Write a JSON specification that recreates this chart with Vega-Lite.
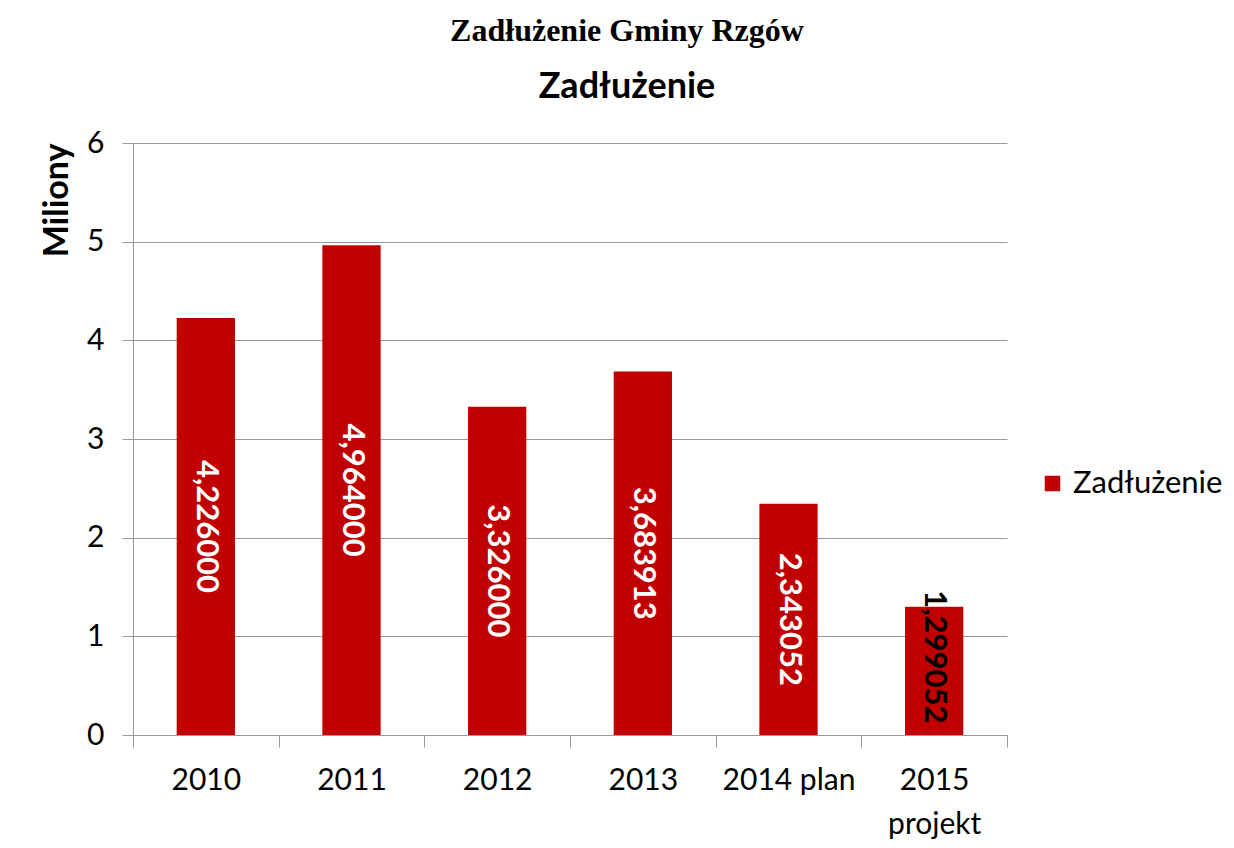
{
  "$schema": "https://vega.github.io/schema/vega-lite/v6.json",
  "autosize": {"type": "none"},
  "width": 874,
  "height": 592,
  "padding": {"left": 133, "top": 143, "right": 227, "bottom": 113},
  "background": "white",
  "title": {
    "text": "Zadłużenie Gminy Rzgów",
    "subtitle": "Zadłużenie",
    "font": "Liberation Serif",
    "fontSize": 32,
    "fontWeight": "bold",
    "color": "black",
    "subtitleFont": "Lato",
    "subtitleFontSize": 36,
    "subtitleFontWeight": "bold",
    "subtitleColor": "black",
    "subtitlePadding": 22,
    "anchor": "middle",
    "dx": 57,
    "offset": 22
  },
  "data": {
    "values": [
      {"rok": "2010", "value": 4.226, "label": "4,226000", "series": "Zadłużenie"},
      {"rok": "2011", "value": 4.964, "label": "4,964000", "series": "Zadłużenie"},
      {"rok": "2012", "value": 3.326, "label": "3,326000", "series": "Zadłużenie"},
      {"rok": "2013", "value": 3.683913, "label": "3,683913", "series": "Zadłużenie"},
      {"rok": "2014 plan", "value": 2.343052, "label": "2,343052", "series": "Zadłużenie"},
      {"rok": "2015 projekt", "value": 1.299052, "label": "1,299052", "series": "Zadłużenie"}
    ]
  },
  "layer": [
    {
      "mark": {"type": "bar", "width": {"band": 0.4}},
      "encoding": {
        "x": {
          "field": "rok", "type": "nominal", "sort": null,
          "scale": {"paddingInner": 0, "paddingOuter": 0},
          "axis": {
            "title": null,
            "labelAngle": 0,
            "labelFont": "Lato",
            "labelFontSize": 30,
            "labelColor": "black",
            "labelPadding": 18,
            "labelLineHeight": 44,
            "labelExpr": "datum.value == '2015 projekt' ? ['2015', 'projekt'] : datum.value",
            "tickBand": "extent",
            "tickSize": 12,
            "tickColor": "#999999",
            "domainColor": "#999999",
            "grid": false
          }
        },
        "y": {
          "field": "value", "type": "quantitative",
          "scale": {"domain": [0, 6]},
          "axis": {
            "title": "Miliony",
            "titleFont": "Lato",
            "titleFontSize": 34,
            "titleFontWeight": "bold",
            "titleColor": "black",
            "titleAnchor": "end",
            "titlePadding": 12,
            "values": [0, 1, 2, 3, 4, 5, 6],
            "labelOverlap": false,
            "labelFont": "Lato",
            "labelFontSize": 30,
            "labelColor": "black",
            "labelPadding": 18,
            "tickSize": 11,
            "tickColor": "#999999",
            "domainColor": "#999999",
            "gridColor": "#999999",
            "gridWidth": 1
          }
        },
        "color": {
          "field": "series", "type": "nominal",
          "scale": {"range": ["#C00000"]},
          "legend": {
            "title": null,
            "orient": "none",
            "legendX": 904,
            "legendY": 325,
            "symbolType": "square",
            "symbolSize": 240,
            "symbolStrokeWidth": 0,
            "labelFont": "Lato",
            "labelFontSize": 31,
            "labelColor": "black",
            "labelOffset": 5
          }
        }
      }
    },
    {
      "transform": [{"filter": "datum.rok != '2015 projekt'"}],
      "mark": {"type": "text", "angle": 90, "align": "center", "baseline": "middle", "font": "Lato", "fontSize": 31, "fontWeight": "bold", "color": "white"},
      "encoding": {
        "x": {"field": "rok", "type": "nominal", "sort": null},
        "y": {"field": "value", "type": "quantitative", "scale": {"domain": [0, 12]}, "axis": null},
        "text": {"field": "label"}
      }
    },
    {
      "transform": [{"filter": "datum.rok == '2015 projekt'"}],
      "mark": {"type": "text", "angle": 90, "align": "center", "baseline": "middle", "font": "Lato", "fontSize": 31, "fontWeight": "bold", "color": "black", "dx": -14},
      "encoding": {
        "x": {"field": "rok", "type": "nominal", "sort": null},
        "y": {"field": "value", "type": "quantitative", "scale": {"domain": [0, 12]}, "axis": null},
        "text": {"field": "label"}
      }
    }
  ],
  "resolve": {"scale": {"y": "independent"}},
  "config": {"view": {"stroke": null}}
}
